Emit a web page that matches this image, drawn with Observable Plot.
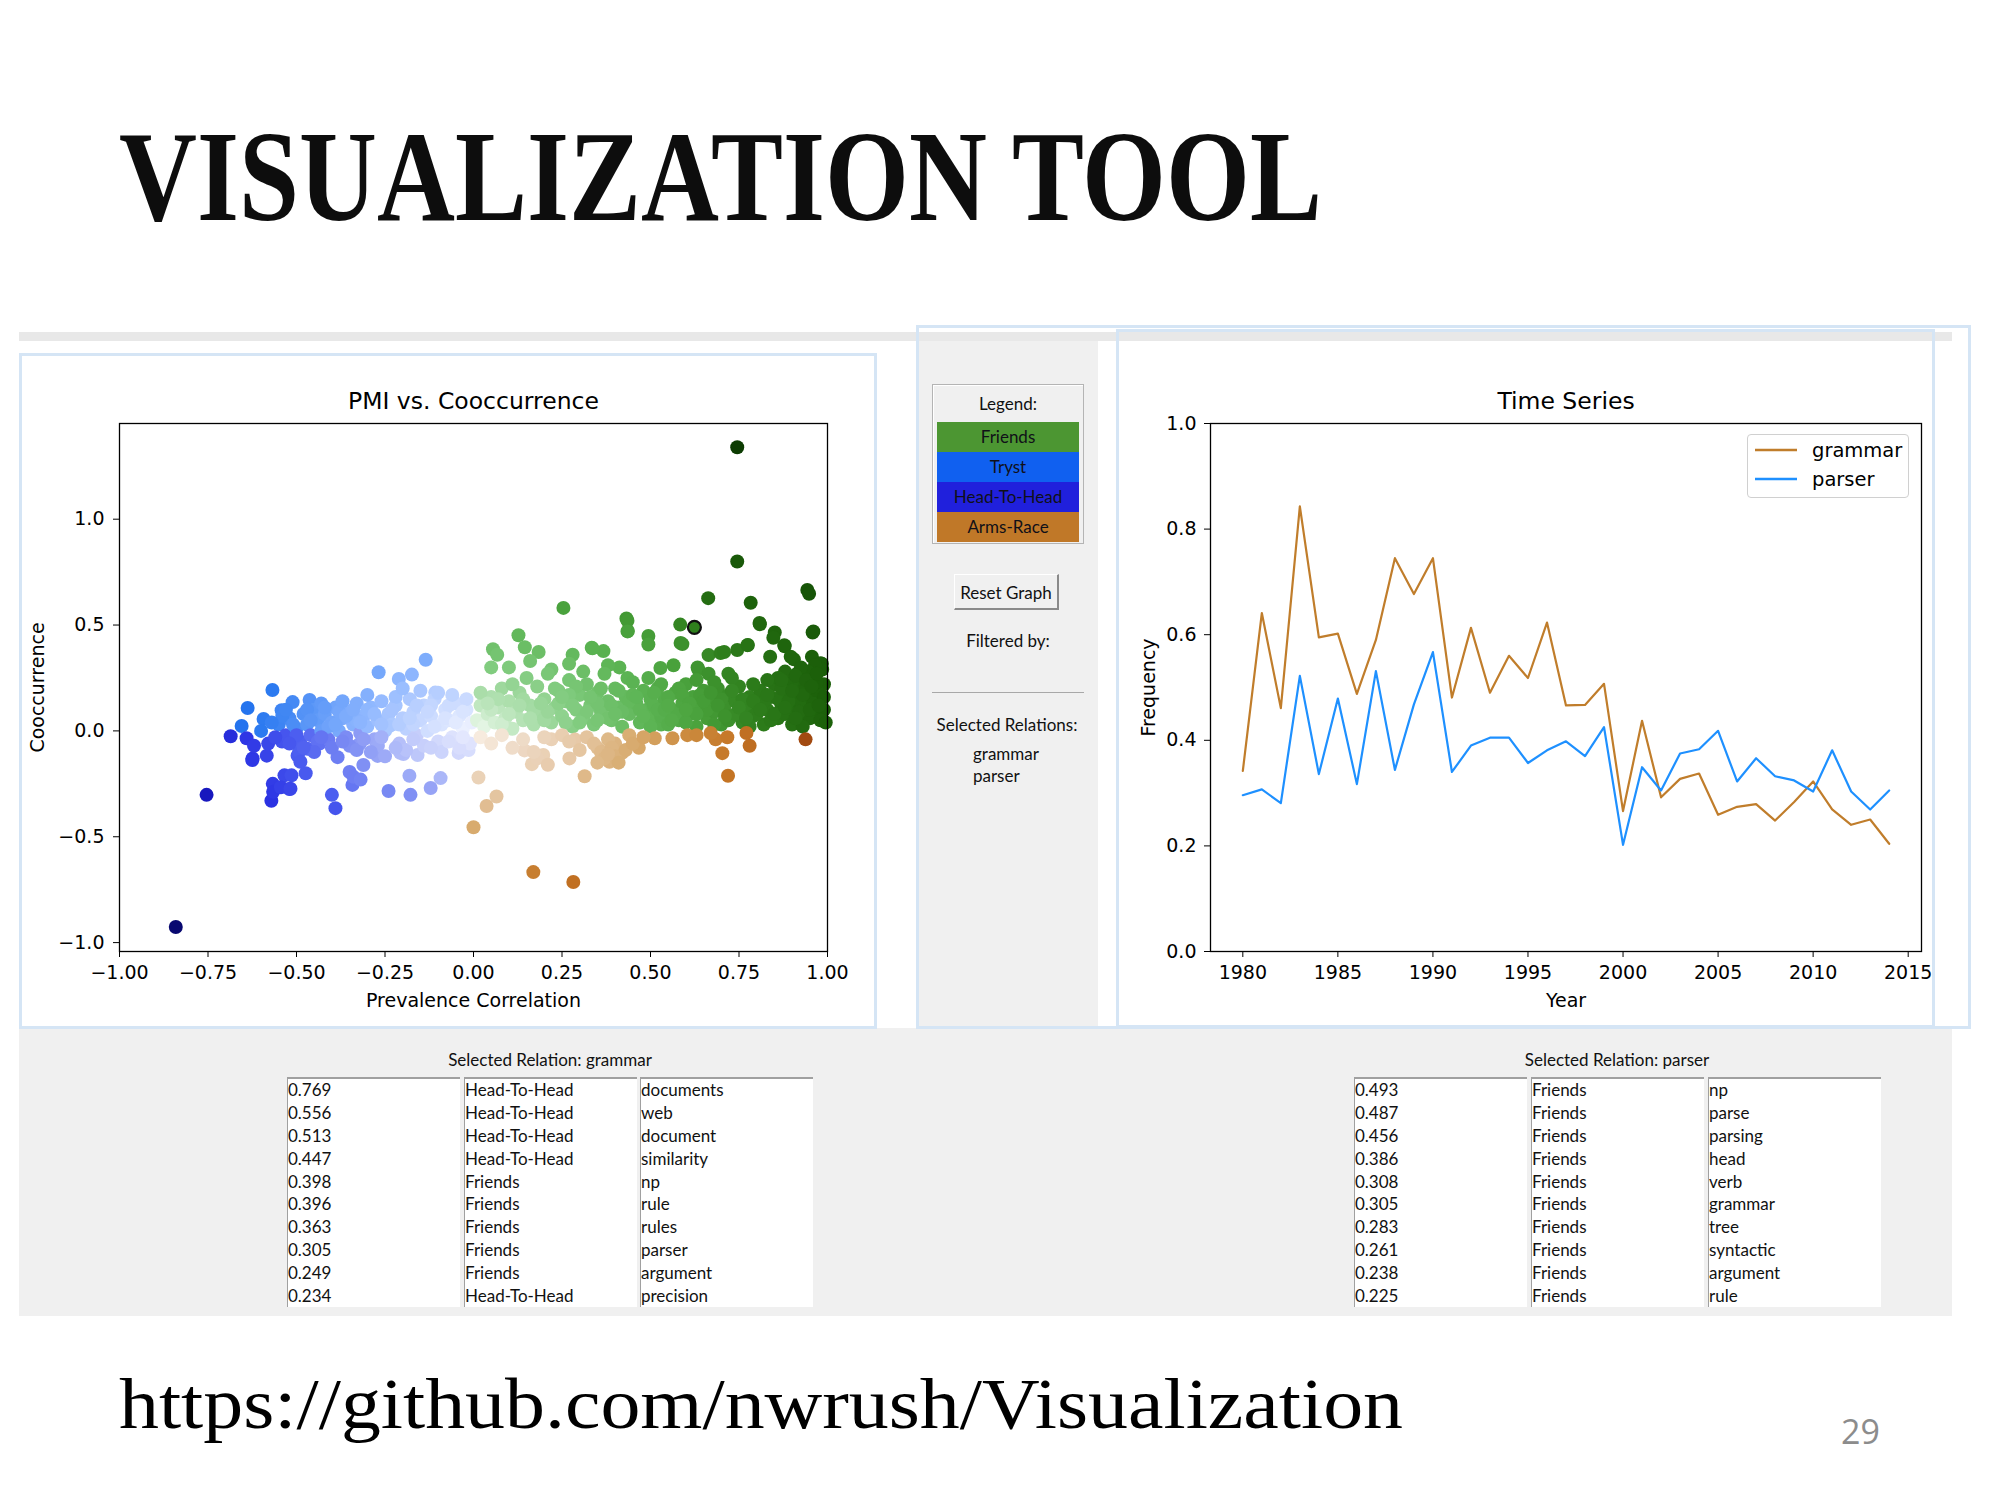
<!DOCTYPE html>
<html>
<head>
<meta charset="utf-8">
<script src="https://cdn.jsdelivr.net/npm/d3@7"></script>
<script src="https://cdn.jsdelivr.net/npm/@observablehq/plot@0.6"></script>
<style>
  html, body { margin: 0; padding: 0; background: #fff; }
  #page { position: relative; width: 2000px; height: 1500px; overflow: hidden; background: #fff; }
  .abs { position: absolute; }
  .ui { font-family: Lato, "Noto Sans", sans-serif; color: #111; }
  .col { position: absolute; background: #fff; border-top: 2px solid #a0a0a0; border-left: 1px solid #a0a0a0; box-sizing: border-box; overflow: hidden; }
  .col div { height: 22.9px; line-height: 22.9px; font-size: 17px; padding-left: 0px; white-space: nowrap; font-family: Lato, sans-serif; color: #111; }
</style>
</head>
<body>
<div id="page"></div>
<script>
// ---------------- DATA ----------------
// PMI vs. Cooccurrence scatter: [prevalence correlation, cooccurrence]
const scatterPoints = [
  // outliers / sparse points
  [-0.841,-0.926],[-0.754,-0.302],[0.745,1.34],[0.745,0.80],[0.663,0.627],[0.783,0.605],[0.943,0.666],[0.948,0.648],
  [0.254,0.581],[0.584,0.502],[0.432,0.531],[0.436,0.472],[0.494,0.448],[0.494,0.408],[0.59,0.41],[0.809,0.504],
  [0.851,0.465],[0.958,0.465],[0.879,0.40],[0.775,0.406],[0.745,0.382],[0.127,0.452],[0.145,0.395],[0.184,0.373],
  [0.055,0.386],[0.067,0.36],[0.334,0.393],[0.367,0.377],[0.28,0.36],[0.27,0.317],[0.664,0.358],[0.698,0.368],[0.708,0.373],
  [0.635,0.29],[0.72,0.27],[0.838,0.35],[0.905,0.338],[0.984,0.317],[0.956,0.35],[0.528,0.297],[0.565,0.31],[0.494,0.25],
  [0.412,0.30],[0.435,0.25],[0.336,0.39],[0.585,0.415],[0.633,0.30],[0.664,0.27],[0.774,0.405],[0.878,0.405],[0.847,0.44],
  [0.808,0.51],[0.896,0.35],[0.96,0.47],[0.98,0.32],[0.914,0.27],[0.435,0.52],[0.435,0.47],[0.10,0.30],[0.16,0.33],[0.22,0.29],
  [0.05,0.30],[0.31,0.28],[0.38,0.31],
  // Tryst / Head-To-Head sparse
  [-0.135,0.336],[-0.174,0.266],[-0.211,0.245],[-0.268,0.277],[-0.108,0.181],[-0.568,0.193],[-0.638,0.108],[-0.542,0.098],
  [-0.511,0.136],[-0.463,0.146],[-0.655,0.023],[-0.593,0.056],[-0.686,-0.025],[-0.641,-0.035],[-0.624,-0.13],[-0.584,-0.117],
  [-0.571,-0.33],[-0.567,-0.25],[-0.534,-0.21],[-0.514,-0.21],[-0.52,-0.275],[-0.474,-0.2],[-0.497,-0.117],[-0.469,-0.084],
  [-0.435,-0.06],[-0.384,-0.124],[-0.35,-0.194],[-0.342,-0.255],[-0.40,-0.302],[-0.39,-0.365],[-0.322,-0.062],[-0.271,-0.118],
  [-0.311,-0.161],[-0.339,-0.217],[-0.319,-0.23],[-0.181,-0.212],[-0.093,-0.223],[-0.121,-0.27],[-0.178,-0.302],[-0.24,-0.284],
  [-0.198,-0.109],[-0.158,-0.114],[-0.042,-0.104],[-0.014,-0.09],[-0.625,-0.138],[-0.541,-0.05],[-0.492,-0.096],[-0.489,-0.146],
  [-0.566,-0.288],[-0.544,-0.266],[-0.517,-0.273],[-0.207,-0.103],
  // Tryst / Head-To-Head dense band
  [-0.55,0.03],[-0.53,-0.02],[-0.52,0.06],[-0.5,0.01],[-0.49,-0.05],[-0.48,0.08],[-0.47,0.03],[-0.46,-0.02],[-0.45,0.10],
  [-0.44,0.05],[-0.43,0.0],[-0.42,0.08],[-0.41,-0.04],[-0.40,0.04],[-0.39,0.11],[-0.38,0.0],[-0.37,0.06],[-0.36,-0.03],
  [-0.35,0.09],[-0.34,0.03],[-0.33,0.13],[-0.32,-0.01],[-0.31,0.07],[-0.30,0.02],[-0.29,0.11],[-0.28,-0.04],[-0.27,0.05],
  [-0.26,0.14],[-0.25,0.0],[-0.24,0.08],[-0.23,0.03],[-0.22,0.12],[-0.21,-0.06],[-0.20,0.06],[-0.19,0.01],[-0.18,0.15],
  [-0.17,0.09],[-0.16,-0.02],[-0.15,0.05],[-0.14,0.12],[-0.13,0.0],[-0.12,0.07],[-0.11,0.15],[-0.10,-0.05],[-0.09,0.03],
  [-0.08,0.10],[-0.07,0.05],[-0.06,-0.03],[-0.05,0.13],[-0.04,0.07],[-0.03,0.01],[-0.02,0.10],[-0.01,-0.06],[-0.005,0.04],
  [-0.54,0.07],[-0.51,0.03],[-0.47,0.10],[-0.44,-0.05],[-0.41,0.02],[-0.38,0.09],[-0.35,-0.07],[-0.33,0.05],[-0.30,0.10],
  [-0.27,-0.07],[-0.24,0.02],[-0.22,0.16],[-0.19,-0.09],[-0.17,0.03],[-0.14,-0.07],[-0.12,0.12],[-0.09,-0.10],[-0.07,0.12],
  [-0.04,-0.08],[-0.02,0.15],[-0.60,0.0],[-0.58,-0.06],[-0.57,0.04],[-0.62,-0.07],[-0.45,-0.10],[-0.40,-0.08],[-0.29,-0.10],
  [-0.25,-0.12],[-0.10,0.18],[-0.15,0.19],[-0.06,0.17],[-0.20,0.20],[-0.30,0.17],[-0.37,0.14],[-0.43,0.13],
  [-0.53,0.10],[-0.50,-0.02],[-0.46,0.05],[-0.42,0.11],[-0.39,0.03],[-0.36,0.07],[-0.34,0.10],[-0.32,0.04],[-0.28,0.08],
  [-0.26,0.03],[-0.23,0.10],[-0.21,0.03],[-0.18,0.06],[-0.16,0.12],[-0.13,0.09],[-0.11,0.02],[-0.08,0.06],[-0.05,0.04],
  [-0.03,0.09],[-0.56,-0.03],[-0.52,-0.06],[-0.48,-0.08],[-0.43,-0.03],[-0.37,-0.05],[-0.33,-0.09],[-0.31,-0.04],[-0.26,-0.03],
  [-0.22,-0.08],[-0.17,-0.04],[-0.12,-0.08],[-0.07,-0.05],[-0.03,-0.03],
  // Friends dense band
  [0.01,0.05],[0.02,0.12],[0.03,0.02],[0.04,0.08],[0.05,0.16],[0.06,0.04],[0.07,0.11],[0.08,0.20],[0.09,0.06],[0.10,0.14],
  [0.11,0.01],[0.12,0.09],[0.13,0.18],[0.14,0.05],[0.15,0.25],[0.16,0.12],[0.17,0.03],[0.18,0.21],[0.19,0.08],[0.20,0.15],
  [0.21,0.27],[0.22,0.04],[0.23,0.11],[0.24,0.19],[0.25,0.07],[0.26,0.14],[0.27,0.24],[0.28,0.02],[0.29,0.10],[0.30,0.17],
  [0.31,0.06],[0.32,0.22],[0.33,0.12],[0.34,0.03],[0.35,0.18],[0.36,0.09],[0.37,0.27],[0.38,0.14],[0.39,0.05],[0.40,0.20],
  [0.41,0.11],[0.42,0.02],[0.43,0.16],[0.44,0.08],[0.45,0.23],[0.46,0.13],[0.47,0.04],[0.48,0.19],[0.49,0.10],[0.50,0.06],
  [0.02,0.18],[0.05,0.10],[0.08,0.03],[0.11,0.22],[0.14,0.15],[0.17,0.10],[0.20,0.05],[0.23,0.20],[0.26,0.04],[0.29,0.21],
  [0.32,0.09],[0.35,0.13],[0.38,0.06],[0.41,0.19],[0.44,0.14],[0.47,0.10],[0.50,0.15],[0.53,0.03],
  [0.51,0.12],[0.52,0.20],[0.53,0.07],[0.54,0.15],[0.55,0.03],[0.56,0.10],[0.57,0.18],[0.58,0.05],[0.59,0.13],[0.60,0.22],
  [0.61,0.08],[0.62,0.16],[0.63,0.02],[0.64,0.11],[0.65,0.19],[0.66,0.06],[0.67,0.14],[0.68,0.09],[0.69,0.20],[0.70,0.03],
  [0.71,0.12],[0.72,0.17],[0.73,0.07],[0.74,0.14],[0.75,0.21],[0.76,0.04],[0.77,0.10],[0.78,0.16],[0.79,0.07],[0.80,0.13],
  [0.81,0.19],[0.82,0.03],[0.83,0.10],[0.84,0.16],[0.85,0.22],[0.86,0.06],[0.87,0.12],[0.88,0.18],[0.89,0.26],[0.90,0.09],
  [0.91,0.15],[0.92,0.21],[0.93,0.04],[0.94,0.12],[0.95,0.18],[0.96,0.25],[0.97,0.08],[0.98,0.15],[0.99,0.22],[0.985,0.29],
  [0.965,0.31],[0.945,0.28],[0.925,0.30],[0.90,0.23],[0.88,0.28],[0.86,0.25],[0.92,0.13],[0.95,0.06],[0.97,0.19],[0.99,0.10],
  [0.50,0.02],[0.52,0.10],[0.55,0.16],[0.57,0.08],[0.60,0.04],[0.62,0.11],[0.64,0.17],[0.66,0.10],[0.68,0.03],[0.70,0.15],
  [0.72,0.05],[0.74,0.08],[0.76,0.15],[0.78,0.02],[0.80,0.08],[0.82,0.14],[0.84,0.05],[0.86,0.15],[0.88,0.08],[0.90,0.03],
  [0.92,0.09],[0.94,0.20],[0.96,0.13],[0.98,0.05],[0.53,0.22],[0.58,0.20],[0.63,0.24],[0.68,0.23],[0.73,0.25],[0.79,0.22],
  [0.83,0.24],[0.93,0.02],
  [0.21,0.09],[0.24,0.13],[0.27,0.17],[0.30,0.04],[0.33,0.16],[0.36,0.20],[0.39,0.12],[0.42,0.09],[0.45,0.17],[0.48,0.07],
  [0.51,0.18],[0.54,0.10],[0.56,0.05],[0.59,0.17],[0.61,0.13],[0.63,0.08],[0.65,0.14],[0.67,0.18],[0.69,0.12],[0.71,0.07],
  [0.73,0.19],[0.75,0.11],[0.77,0.06],[0.79,0.14],[0.81,0.10],[0.83,0.17],[0.85,0.08],[0.87,0.20],[0.89,0.14],[0.91,0.06],
  [0.93,0.17],[0.95,0.10],[0.97,0.23],[0.99,0.16],[0.91,0.26],[0.94,0.24],[0.87,0.24],[0.97,0.27],[0.88,0.11],[0.90,0.19],
  [0.955,0.21],[0.975,0.12],[0.995,0.04],[0.60,0.10],[0.55,0.12],[0.46,0.16],[0.40,0.08],[0.35,0.05],[0.28,0.12],[0.25,0.16],
  [0.19,0.13],[0.16,0.06],[0.13,0.12],[0.07,0.15],[0.04,0.13],[0.10,0.08],
  // Arms-Race
  [0.0,-0.455],[0.037,-0.355],[0.065,-0.31],[0.014,-0.22],[0.169,-0.667],[0.282,-0.714],[0.314,-0.214],[0.271,-0.13],
  [0.719,-0.212],[0.703,-0.105],[0.78,-0.07],[0.684,-0.04],[0.717,-0.03],[0.771,-0.01],[0.938,-0.04],[0.467,-0.08],
  [0.512,-0.035],[0.562,-0.035],[0.604,-0.02],[0.197,-0.114],[0.165,-0.157],[0.144,-0.092],[0.364,-0.124],[0.384,-0.146],
  [0.42,-0.103],[0.35,-0.08],[0.40,-0.06],[0.22,-0.04],[0.287,-0.041],[0.367,-0.10],[0.18,-0.13],[0.21,-0.16],
  [0.02,-0.03],[0.05,-0.06],[0.08,-0.02],[0.11,-0.08],[0.14,-0.04],[0.17,-0.10],[0.20,-0.03],[0.25,-0.02],[0.27,-0.05],
  [0.30,-0.09],[0.32,-0.03],[0.34,-0.06],[0.36,-0.10],[0.37,-0.13],[0.38,-0.04],[0.39,-0.08],[0.40,-0.12],[0.41,-0.15],
  [0.43,-0.09],[0.44,-0.02],[0.35,-0.15],[0.38,-0.11],[0.45,-0.06],[0.48,-0.03],[0.63,-0.02],[0.67,-0.01]
];
const highlightedPoint = [[0.624, 0.489]];
const scatterXTicks = [-1.00, -0.75, -0.50, -0.25, 0.00, 0.25, 0.50, 0.75, 1.00];
const scatterYTicks = [-1.0, -0.5, 0.0, 0.5, 1.0];

// Time series
const years = [1980,1981,1982,1983,1984,1985,1986,1987,1988,1989,1990,1991,1992,1993,1994,1995,1996,1997,1998,1999,
               2000,2001,2002,2003,2004,2005,2006,2007,2008,2009,2010,2011,2012,2013,2014];
const grammarFreq = [0.342,0.641,0.461,0.843,0.595,0.602,0.488,0.590,0.745,0.677,0.745,0.481,0.613,0.490,0.560,0.518,0.623,
                     0.466,0.467,0.507,0.266,0.437,0.292,0.327,0.337,0.259,0.274,0.279,0.248,0.283,0.322,0.269,0.240,0.250,0.204];
const parserFreq  = [0.296,0.307,0.281,0.522,0.336,0.479,0.317,0.531,0.344,0.468,0.567,0.340,0.390,0.405,0.405,0.357,0.381,
                     0.398,0.370,0.425,0.202,0.349,0.305,0.375,0.383,0.418,0.322,0.366,0.332,0.324,0.303,0.381,0.303,0.269,0.305];
const seriesNames = ["grammar", "parser"];
const yearTicks = [1980,1985,1990,1995,2000,2005,2010,2015];
const freqTicks = [0.0,0.2,0.4,0.6,0.8,1.0];

// Legend categories
const relationTypes = ["Friends", "Tryst", "Head-To-Head", "Arms-Race"];
const selectedRelations = ["grammar", "parser"];

// Tables
const grammarScores = ["0.769","0.556","0.513","0.447","0.398","0.396","0.363","0.305","0.249","0.234"];
const grammarTypes  = ["Head-To-Head","Head-To-Head","Head-To-Head","Head-To-Head","Friends","Friends","Friends","Friends","Friends","Head-To-Head"];
const grammarWords  = ["documents","web","document","similarity","np","rule","rules","parser","argument","precision"];
const parserScores  = ["0.493","0.487","0.456","0.386","0.308","0.305","0.283","0.261","0.238","0.225"];
const parserTypes   = ["Friends","Friends","Friends","Friends","Friends","Friends","Friends","Friends","Friends","Friends"];
const parserWords   = ["np","parse","parsing","head","verb","grammar","tree","syntactic","argument","rule"];

// ---------------- STYLES ----------------
const legendColors = {"Friends": "#4c9632", "Tryst": "#1060f0", "Head-To-Head": "#2020dc", "Arms-Race": "#c07828"};
const rampStops = {
  "Friends":      [[0,"#f2fbf2"],[0.15,"#b4e2b4"],[0.3,"#82cc80"],[0.5,"#5cb454"],[0.65,"#48a03a"],[0.8,"#2e7e1c"],[1.0,"#1c600a"],[1.5,"#0c3c02"]],
  "Tryst":        [[0,"#f4f6ff"],[0.15,"#cadaff"],[0.3,"#94baff"],[0.45,"#609af8"],[0.6,"#2c7af0"],[0.8,"#1060e8"]],
  "Head-To-Head": [[0,"#eef0ff"],[0.2,"#bcc6fa"],[0.35,"#8090f4"],[0.5,"#4c5ef0"],[0.65,"#2c34e4"],[0.8,"#1818c0"],[1.25,"#080870"]],
  "Arms-Race":    [[0,"#faf0e6"],[0.15,"#eedac6"],[0.3,"#e6c8a6"],[0.45,"#d8ac70"],[0.6,"#cc8c40"],[0.75,"#c47424"],[0.95,"#a04810"]]
};
const ramps = {};
for (const k in rampStops) ramps[k] = d3.scaleLinear().domain(rampStops[k].map(s => s[0])).range(rampStops[k].map(s => s[1])).clamp(true);
function relationOf([x, y]) {
  if (x >= 0 && y >= 0) return "Friends";
  if (x < 0 && y >= 0) return "Tryst";
  if (x < 0 && y < 0) return "Head-To-Head";
  return "Arms-Race";
}
function colorOf(d) { return ramps[relationOf(d)](Math.hypot(d[0], d[1])); }
const seriesColors = ["#c07d2b", "#1e90ff"];

// ---------------- LAYOUT ----------------
const page = document.getElementById("page");
function box(l, t, w, h, css) {
  const d = document.createElement("div");
  d.className = "abs";
  Object.assign(d.style, {left: l + "px", top: t + "px", width: w + "px", height: h + "px"}, css || {});
  page.appendChild(d);
  return d;
}
function label(text, l, t, css) {
  const d = document.createElement("div");
  d.className = "abs ui";
  d.textContent = text;
  Object.assign(d.style, {left: l + "px", top: t + "px", whiteSpace: "nowrap"}, css || {});
  page.appendChild(d);
  return d;
}

// backgrounds
box(19, 332, 1933, 9, {background: "#e8e8e8"});
box(916, 341, 182, 687, {background: "#f0f0f0"});
box(19, 1028, 1933, 288, {background: "#f0f0f0"});

const axisStyle = {fontFamily: "'DejaVu Sans', sans-serif", fontSize: "19px", color: "#000", background: "transparent", overflow: "visible"};

// ---------- Scatter ----------
const pmi = Plot.plot({
  width: 857, height: 675,
  marginLeft: 100, marginRight: 49, marginTop: 70, marginBottom: 77,
  x: {domain: [-1, 1]},
  y: {domain: [-1.042, 1.452]},
  color: {type: "identity"},
  style: axisStyle,
  marks: [
    Plot.dot(scatterPoints, {x: d => d[0], y: d => d[1], r: 7, fill: d => colorOf(d), stroke: "none"}),
    Plot.dot(highlightedPoint, {x: d => d[0], y: d => d[1], r: 6.5, fill: d => colorOf(d), stroke: "#111", strokeWidth: 2.2}),
    Plot.frame({stroke: "#000", strokeWidth: 1.3}),
    Plot.axisX({ticks: scatterXTicks, tickFormat: d3.format(".2f"), tickSize: 6, tickPadding: 8, fontSize: 19,
                label: "Prevalence Correlation", labelAnchor: "center", labelArrow: "none", labelOffset: 55}),
    Plot.axisY({ticks: scatterYTicks, tickFormat: d3.format(".1f"), tickSize: 6, tickPadding: 9, fontSize: 19,
                label: "Cooccurrence", labelAnchor: "center", labelArrow: "none", labelOffset: 89}),
    Plot.text(["PMI vs. Cooccurrence"], {frameAnchor: "top", dy: -31, fontSize: 23.5, fill: "#000"})
  ]
});
const pmiWrap = box(19, 353, 857, 675);
pmiWrap.appendChild(pmi);

// ---------- Time series ----------
const tsData = [];
seriesNames.forEach((name, si) => {
  const vals = si === 0 ? grammarFreq : parserFreq;
  years.forEach((yr, i) => tsData.push({year: yr, value: vals[i], series: name}));
});
const ts = Plot.plot({
  width: 854, height: 675,
  marginLeft: 112, marginRight: 31, marginTop: 70, marginBottom: 77,
  x: {domain: [1978.3, 2015.7]},
  y: {domain: [0, 1]},
  color: {domain: seriesNames, range: seriesColors},
  style: axisStyle,
  marks: [
    Plot.line(tsData, {x: "year", y: "value", stroke: "series", strokeWidth: 2.2}),
    Plot.frame({stroke: "#000", strokeWidth: 1.3}),
    Plot.axisX({ticks: yearTicks, tickFormat: d3.format("d"), tickSize: 6, tickPadding: 8, fontSize: 19,
                label: "Year", labelAnchor: "center", labelArrow: "none", labelOffset: 55}),
    Plot.axisY({ticks: freqTicks, tickFormat: d3.format(".1f"), tickSize: 6, tickPadding: 8, fontSize: 19,
                label: "Frequency", labelAnchor: "center", labelArrow: "none", labelOffset: 69}),
    Plot.text(["Time Series"], {frameAnchor: "top", dy: -31, fontSize: 23.5, fill: "#000"})
  ]
});
const tsWrap = box(1098, 353, 854, 675);
tsWrap.appendChild(ts);

// time series legend
const lg = box(1747, 434, 162, 64, {background: "rgba(255,255,255,0.9)", border: "1px solid #d0d0d0", borderRadius: "4px", boxSizing: "border-box"});
seriesNames.forEach((name, i) => {
  const row = document.createElement("div");
  Object.assign(row.style, {position: "absolute", left: "6px", top: (2 + i * 29) + "px", height: "26px", display: "flex", alignItems: "center"});
  row.innerHTML = `<svg width="44" height="26"><line x1="1" x2="43" y1="13" y2="13" stroke="${seriesColors[i]}" stroke-width="2.4"/></svg>` +
    `<span style="font-family:'DejaVu Sans',sans-serif;font-size:19.5px;margin-left:14px;color:#000">${name}</span>`;
  lg.appendChild(row);
});

// ---------- Middle panel ----------
box(932, 384, 152, 160, {border: "1px solid #b4b4b4", boxShadow: "inset 1px 1px 0 #fff", boxSizing: "border-box", background: "#f0f0f0"});
label("Legend:", 932, 393, {width: "152px", textAlign: "center", fontSize: "17px"});
relationTypes.forEach((r, i) => {
  label(r, 937, 422 + i * 30, {width: "142px", height: "30px", lineHeight: "30px", textAlign: "center",
    background: legendColors[r], fontSize: "17px", color: "#101018"});
});
label("Reset Graph", 954, 574, {width: "105px", height: "36px", lineHeight: "36px", textAlign: "center", fontSize: "17px",
  background: "#f0f0f0", borderTop: "1px solid #fff", borderLeft: "1px solid #fff", borderRight: "2px solid #8a8a8a", borderBottom: "2px solid #8a8a8a",
  boxSizing: "border-box"});
label("Filtered by:", 932, 630, {width: "152px", textAlign: "center", fontSize: "17px"});
box(932, 692, 152, 1, {background: "#a8a8a8"});
label("Selected Relations:", 916, 714, {width: "182px", textAlign: "center", fontSize: "17px"});
selectedRelations.forEach((r, i) => label(r, 973, 743 + i * 22, {fontSize: "17px"}));

// ---------- Tables ----------
function table(header, headerCenter, colLefts, cols) {
  label(header, headerCenter - 150, 1049, {width: "300px", textAlign: "center", fontSize: "17px"});
  colLefts.forEach((l, ci) => {
    const c = document.createElement("div");
    c.className = "col";
    Object.assign(c.style, {left: l + "px", top: "1077px", width: "173px", height: "230px"});
    c.innerHTML = cols[ci].map(v => `<div>${v}</div>`).join("");
    page.appendChild(c);
  });
}
table("Selected Relation: grammar", 550, [287, 464, 640], [grammarScores, grammarTypes, grammarWords]);
table("Selected Relation: parser", 1617, [1354, 1531, 1708], [parserScores, parserTypes, parserWords]);

// panel outlines
box(19, 353, 858, 676, {border: "3px solid #d5e5f5", boxSizing: "border-box"});
box(916, 325, 1055, 704, {border: "3px solid #d5e5f5", boxSizing: "border-box"});
box(1116, 329, 819, 699, {border: "3px solid #d5e5f5", boxSizing: "border-box"});

// ---------- Slide text ----------
const NS = "http://www.w3.org/2000/svg";
const over = document.createElementNS(NS, "svg");
over.setAttribute("width", 2000); over.setAttribute("height", 1500);
over.setAttribute("style", "position:absolute;left:0;top:0;pointer-events:none");
function svgText(str, attrs) {
  const t = document.createElementNS(NS, "text");
  for (const k in attrs) t.setAttribute(k, attrs[k]);
  t.textContent = str;
  over.appendChild(t);
}
svgText("VISUALIZATION TOOL", {x: 119, y: 220, "font-family": "'Liberation Serif', serif", "font-weight": "bold", "font-size": 130,
  textLength: 1203, lengthAdjust: "spacingAndGlyphs", fill: "#0d0d0d"});
svgText("https://github.com/nwrush/Visualization", {x: 119, y: 1428, "font-family": "'Liberation Serif', serif", "font-size": 72,
  textLength: 1284, lengthAdjust: "spacingAndGlyphs", fill: "#000"});
svgText("29", {x: 1841, y: 1444, "font-family": "'Open Sans', sans-serif", "font-size": 34, fill: "#8c8c8c"});
page.appendChild(over);
</script>
</body>
</html>
